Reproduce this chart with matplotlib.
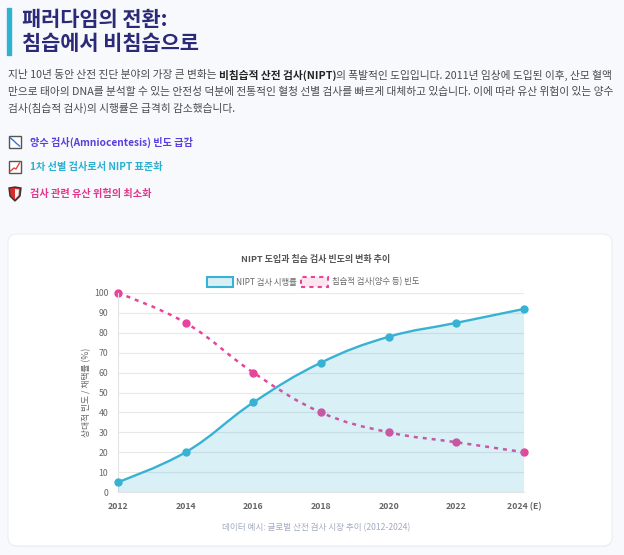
import numpy as np
import matplotlib
matplotlib.use("Agg")
import matplotlib.pyplot as plt
from matplotlib.path import Path
from matplotlib.patches import PathPatch, FancyBboxPatch, Rectangle, Polygon
from matplotlib.lines import Line2D

plt.rcParams["font.family"] = ["Noto Sans CJK KR", "DejaVu Sans"]

# ---------------------------------------------------------
# Data
# ---------------------------------------------------------
years = ["2012", "2014", "2016", "2018", "2020", "2022", "2024 (E)"]
nipt_rate = [5, 20, 45, 65, 78, 85, 92]
invasive_freq = [100, 85, 60, 40, 30, 25, 20]

title_lines = ["패러다임의 전환:", "침습에서 비침습으로"]
para_lines = [
    [("지난 10년 동안 산전 진단 분야의 가장 큰 변화는 ", "normal"),
     ("비침습적 산전 검사(NIPT)", "bold"),
     ("의 폭발적인 도입입니다. 2011년 임상에 도입된 이후, 산모 혈액", "normal")],
    [("만으로 태아의 DNA를 분석할 수 있는 안전성 덕분에 전통적인 혈청 선별 검사를 빠르게 대체하고 있습니다. 이에 따라 유산 위험이 있는 양수", "normal")],
    [("검사(침습적 검사)의 시행률은 급격히 감소했습니다.", "normal")],
]
bullets = ["양수 검사(Amniocentesis) 빈도 급감",
           "1차 선별 검사로서 NIPT 표준화",
           "검사 관련 유산 위험의 최소화"]

CYAN = "#38b2d3"
PINK = "#e8449a"
NAVY = "#2b2a78"
BG = "#f8f9fc"

W, H = 624, 555


def fx(px):
    return px / W


def fy(py):
    return 1 - py / H


fig = plt.figure(figsize=(W / 100, H / 100), dpi=100, facecolor=BG)
fig.canvas.draw()
renderer = fig.canvas.get_renderer()

# Title with accent bar
fig.patches.append(Rectangle((fx(7), fy(55)), fx(4), 47 / H, transform=fig.transFigure,
                             color="#2fb3d1", zorder=1))
fig.text(fx(22), fy(20), title_lines[0], fontsize=15, fontweight="bold", color=NAVY, va="center")
fig.text(fx(22), fy(44), title_lines[1], fontsize=15, fontweight="bold", color=NAVY, va="center")


# Paragraph with inline bold segment: find a size so the long lines fit the page width
def line_width(line, size):
    total = 0
    for txt, weight in line:
        t = fig.text(0, 0, txt, fontsize=size, fontweight=weight)
        total += t.get_window_extent(renderer).width
        t.remove()
    return total


base = 8.3
scale = min(606 / line_width(para_lines[0], base), 608 / line_width(para_lines[1], base))
psize = base * scale

para_y = [75, 92, 108]
for line, py in zip(para_lines, para_y):
    x = 8
    for txt, weight in line:
        t = fig.text(fx(x), fy(py), txt, fontsize=psize, fontweight=weight,
                     color="#222222" if weight == "bold" else "#4a4a4a", va="center")
        x += t.get_window_extent(renderer).width

# Bullet icons + text
bullet_colors = ["#5b3ee0", "#2bb0d0", "#e0378a"]
bullet_y = [142, 167, 194]
for i, (txt, col, py) in enumerate(zip(bullets, bullet_colors, bullet_y)):
    fig.text(fx(30), fy(py), txt, fontsize=7.3, fontweight="bold", color=col, va="center")
    if i < 2:
        fig.patches.append(Rectangle((fx(9), fy(py + 6)), fx(12), 12 / H, transform=fig.transFigure,
                                     facecolor="white", edgecolor="#555555", lw=1.0))
        if i == 0:
            xs, ys = [10.5, 14, 16, 19.5], [py - 4, py - 1, py + 1, py + 4]
            c = "#3a6fd8"
        else:
            xs, ys = [10.5, 14, 16, 19.5], [py + 4, py + 1, py + 2, py - 4]
            c = "#e2443a"
        fig.lines.append(Line2D([fx(v) for v in xs], [fy(v) for v in ys],
                                transform=fig.transFigure, color=c, lw=1.0))
    else:
        shield = [(9, py - 6), (15, py - 7), (21, py - 6), (20, py + 2), (15, py + 7), (10, py + 2)]
        fig.patches.append(Polygon([(fx(a), fy(b)) for a, b in shield], closed=True,
                                   transform=fig.transFigure, facecolor="#d92b2b",
                                   edgecolor="#333333", lw=1.0))
        half = [(15, py - 5), (19, py - 4.5), (18.5, py + 1.5), (15, py + 5)]
        fig.patches.append(Polygon([(fx(a), fy(b)) for a, b in half], closed=True,
                                   transform=fig.transFigure, facecolor="#f3f3f3", lw=0))

# Card (behind the axes)
fig.patches.append(FancyBboxPatch((fx(10), fy(547)), fx(602), (547 - 236) / H,
                                  boxstyle="round,pad=0,rounding_size=0.015",
                                  transform=fig.transFigure, facecolor="#e9ebf0",
                                  edgecolor="none", zorder=-3))
fig.patches.append(FancyBboxPatch((fx(8), fy(546)), fx(604), (546 - 234) / H,
                                  boxstyle="round,pad=0,rounding_size=0.015",
                                  transform=fig.transFigure, facecolor="white",
                                  edgecolor="#eceef2", lw=0.8, zorder=-2))

fig.text(fx(316), fy(259), "NIPT 도입과 침습 검사 빈도의 변화 추이", fontsize=6.5,
         fontweight="bold", color="#555555", ha="center", va="center")

# Legend
fig.patches.append(Rectangle((fx(207), fy(287)), fx(26), 10 / H, transform=fig.transFigure,
                             facecolor="#d8eff6", edgecolor=CYAN, lw=1.5, zorder=3))
fig.text(fx(236), fy(282), "NIPT 검사 시행률", fontsize=6.0, color="#666666", va="center")
fig.patches.append(Rectangle((fx(301), fy(287)), fx(27), 10 / H, transform=fig.transFigure,
                             facecolor="#fbe6f0", edgecolor=PINK, lw=1.5, ls=(0, (2, 2)), zorder=3))
fig.text(fx(332), fy(282), "침습적 검사(양수 등) 빈도", fontsize=6.0, color="#666666", va="center")

fig.text(fx(316), fy(528), "데이터 예시: 글로벌 산전 검사 시장 추이 (2012-2024)", fontsize=6.2,
         color="#a3aac2", ha="center", va="center")

# Axes
ax = fig.add_axes([fx(118), fy(492), (524 - 118) / W, (492 - 293) / H])
ax.set_zorder(1)
ax.set_facecolor("none")
x = np.arange(len(years))
ax.set_xlim(0, len(years) - 1)
ax.set_ylim(0, 100)
ax.set_yticks(range(0, 101, 10))
ax.set_xticks(x)
ax.set_xticklabels(years)
ax.tick_params(axis="both", length=0, labelsize=6.3, labelcolor="#666666")
ax.tick_params(axis="x", pad=7)
ax.tick_params(axis="y", pad=7)
for lab in ax.get_xticklabels():
    lab.set_fontweight("bold")
ax.grid(axis="y", color="#e8e8e8", lw=0.8)
for s in ["top", "right"]:
    ax.spines[s].set_visible(False)
ax.spines["left"].set_color("#e4e4e4")
ax.spines["bottom"].set_color("#e4e4e4")
ax.set_ylabel("상대적 빈도 / 채택률 (%)", fontsize=6.3, color="#666666", labelpad=2)
ax.set_axisbelow(True)

sx, sy = 406 / 6, 199 / 100


def spline_path(xs, ys, tension=0.4):
    pts = np.column_stack([np.asarray(xs, float) * sx, np.asarray(ys, float) * sy])
    n = len(pts)
    cprev, cnext = pts.copy(), pts.copy()
    for i in range(1, n - 1):
        p0, p1, p2 = pts[i - 1], pts[i], pts[i + 1]
        d01 = np.hypot(*(p1 - p0))
        d12 = np.hypot(*(p2 - p1))
        s01 = d01 / (d01 + d12)
        s12 = d12 / (d01 + d12)
        cprev[i] = p1 - tension * s01 * (p2 - p0)
        cnext[i] = p1 + tension * s12 * (p2 - p0)
    verts, codes = [pts[0]], [Path.MOVETO]
    for i in range(n - 1):
        verts += [cnext[i], cprev[i + 1], pts[i + 1]]
        codes += [Path.CURVE4] * 3
    verts = np.array(verts)
    verts[:, 0] /= sx
    verts[:, 1] = np.clip(verts[:, 1] / sy, 0, 100)
    return verts, codes


# Invasive (drawn first, under fill)
v2, c2 = spline_path(x, invasive_freq)
ax.add_patch(PathPatch(Path(v2, c2), fill=False, edgecolor=PINK, lw=1.8,
                       ls=(0, (1.6, 2.0)), zorder=2))
ax.plot(x, invasive_freq, "o", ms=5, color=PINK, zorder=2.1, clip_on=False)

# NIPT fill on top
v1, c1 = spline_path(x, nipt_rate)
fv = np.vstack([v1, [[x[-1], 0], [x[0], 0], [x[0], 0]]])
fc = c1 + [Path.LINETO, Path.LINETO, Path.CLOSEPOLY]
ax.add_patch(PathPatch(Path(fv, fc), facecolor=CYAN, alpha=0.19, edgecolor="none", zorder=3))
ax.add_patch(PathPatch(Path(v1, c1), fill=False, edgecolor=CYAN, lw=1.7, zorder=4))
ax.plot(x, nipt_rate, "o", ms=5, color=CYAN, zorder=5, clip_on=False)

fig.savefig("out.png", dpi=100, facecolor=BG)
